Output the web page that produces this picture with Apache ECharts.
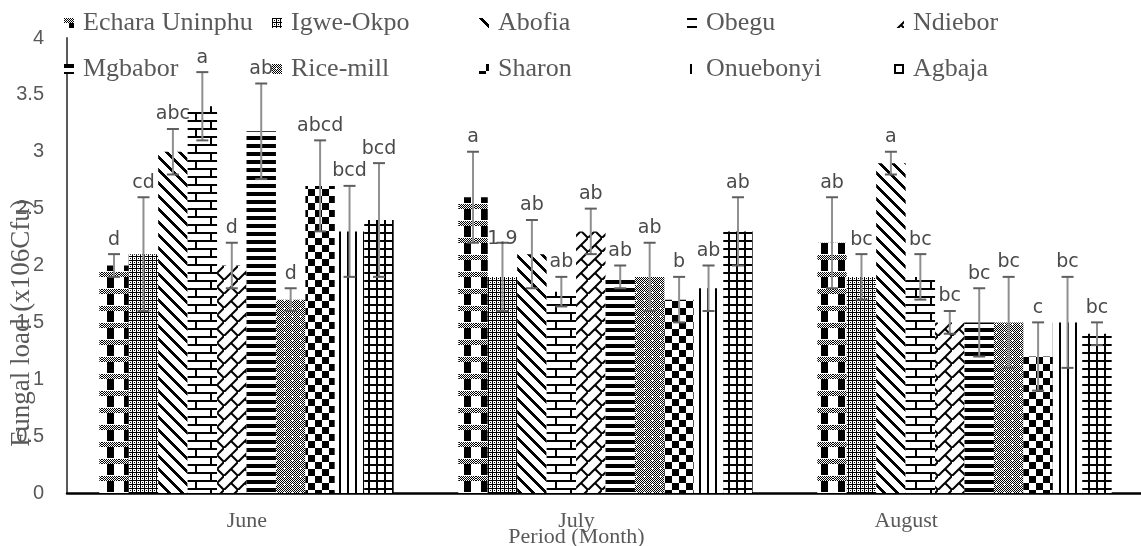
<!DOCTYPE html>
<html><head><meta charset="utf-8">
<script src="https://cdn.jsdelivr.net/npm/echarts@6/dist/echarts.min.js"></script>
<style>html,body{margin:0;padding:0;background:#fff}#c{width:1141px;height:546px}</style>
</head><body><div id="c"></div>
<script>
// ---------- DATA ----------
const categories = ['June', 'July', 'August'];
const seriesNames = ['Echara Uninphu', 'Igwe-Okpo', 'Abofia', 'Obegu', 'Ndiebor',
                     'Mgbabor', 'Rice-mill', 'Sharon', 'Onuebonyi', 'Agbaja'];
const yTicks = [0, 0.5, 1, 1.5, 2, 2.5, 3, 3.5, 4];

// mean fungal load per site [June, July, August]
const echara    = [2.0, 2.6, 2.2];
const igweOkpo  = [2.1, 1.9, 1.9];
const abofia    = [3.0, 2.1, 2.9];
const obegu     = [3.4, 1.77, 1.9];
const ndiebor   = [2.0, 2.3, 1.5];
const mgbabor   = [3.18, 1.9, 1.5];
const riceMill  = [1.7, 1.9, 1.5];
const sharon    = [2.7, 1.7, 1.2];
const onuebonyi = [2.3, 1.8, 1.5];
const agbaja    = [2.4, 2.3, 1.4];

// error bar half-lengths [June, July, August]
const echaraErr    = [0.1, 0.4, 0.4];
const igweOkpoErr  = [0.5, 0.3, 0.2];
const abofiaErr    = [0.2, 0.3, 0.1];
const obeguErr     = [0.3, 0.13, 0.2];
const ndieborErr   = [0.2, 0.2, 0.1];
const mgbaborErr   = [0.42, 0.1, 0.3];
const riceMillErr  = [0.1, 0.3, 0.4];
const sharonErr    = [0.4, 0.2, 0.3];
const onuebonyiErr = [0.4, 0.2, 0.4];
const agbajaErr    = [0.5, 0.3, 0.1];

// significance letters [June, July, August]
const echaraLbl    = ['d', 'a', 'ab'];
const igweOkpoLbl  = ['cd', '1.9', 'bc'];
const abofiaLbl    = ['abc', 'ab', 'a'];
const obeguLbl     = ['a', 'ab', 'bc'];
const ndieborLbl   = ['d', 'ab', 'bc'];
const mgbaborLbl   = ['ab', 'ab', 'bc'];
const riceMillLbl  = ['d', 'ab', 'bc'];
const sharonLbl    = ['abcd', 'b', 'c'];
const onuebonyiLbl = ['bcd', 'ab', 'bc'];
const agbajaLbl    = ['bcd', 'ab', 'bc'];

const values = [echara, igweOkpo, abofia, obegu, ndiebor, mgbabor, riceMill, sharon, onuebonyi, agbaja];
const errors = [echaraErr, igweOkpoErr, abofiaErr, obeguErr, ndieborErr, mgbaborErr, riceMillErr, sharonErr, onuebonyiErr, agbajaErr];
const letters = [echaraLbl, igweOkpoLbl, abofiaLbl, obeguLbl, ndieborLbl, mgbaborLbl, riceMillLbl, sharonLbl, onuebonyiLbl, agbajaLbl];

// ---------- PATTERNS ----------
function pix(w, h, fn) {
  const c = document.createElement('canvas'); c.width = w; c.height = h;
  const ctx = c.getContext('2d'); const img = ctx.createImageData(w, h);
  for (let j = 0; j < h; j++) for (let i = 0; i < w; i++) {
    const v = fn(i, j) ? 0 : 255, k = (j * w + i) * 4;
    img.data[k] = v; img.data[k + 1] = v; img.data[k + 2] = v; img.data[k + 3] = 255;
  }
  ctx.putImageData(img, 0, 0); return c;
}
function drawn(w, h, fn) {
  const c = document.createElement('canvas'); c.width = w; c.height = h;
  const ctx = c.getContext('2d'); ctx.fillStyle = '#fff'; ctx.fillRect(0, 0, w, h);
  ctx.strokeStyle = '#000'; fn(ctx); return c;
}
const tiles = [
  pix(17, 17, (i, j) => j < 5 ? (i + j) % 2 === 0 : (i >= 5 && i < 12 && j >= 5 && j < 16)),
  pix(4, 4, (i, j) => i === 0 || j === 0 || (i === 2 && j === 2)),
  pix(13, 13, (i, j) => ((i - j + 130) % 13) < 4),
  pix(30, 16, (i, j) => (j % 8) < 2 || (j >= 2 && j < 8 && (i === 15 || i === 16)) || (j >= 10 && (i === 0 || i === 1))),
  drawn(14, 14, ctx => {
    ctx.lineWidth = 2;
    ctx.beginPath(); ctx.moveTo(-2, 16); ctx.lineTo(16, -2); ctx.stroke();
    ctx.beginPath(); ctx.moveTo(7, 7); ctx.lineTo(15, 15); ctx.stroke();
  }),
  pix(1, 8, (i, j) => j < 4),
  pix(8, 8, (i, j) => (i + j) % 2 === 0 && !(i === 4 && j === 4)),
  pix(14, 14, (i, j) => (i < 7) !== (j < 7)),
  pix(8, 1, (i) => i >= 3 && i < 5),
  pix(8, 8, (i, j) => i < 2 || j < 2)
];

// ---------- CHART ----------
const chart = echarts.init(document.getElementById('c'), null, { renderer: 'canvas' });
const GAP = 0.18, N = seriesNames.length;
const errData = [], errMeta = [];
values.forEach((vals, s) => vals.forEach((v, c) => {
  errData.push([c, v, s, errors[s][c]]);
  errMeta.push(letters[s][c]);
}));

const labelFont = '"DejaVu Sans", sans-serif';
const serif = '"Liberation Serif", "Times New Roman", serif';

const option = {
  animation: false,
  backgroundColor: '#fff',
  grid: [
    { left: 67, right: -3, top: 38, bottom: 53, containLabel: false, outerBoundsMode: 'none' },
    { left: 82, right: 70, top: 38, bottom: 53, containLabel: false, outerBoundsMode: 'none' }
  ],
  legend: seriesNames.map((n, k) => ({
    data: [n], selectedMode: false, icon: 'rect', itemWidth: 10, itemHeight: 10, padding: 0,
    left: Math.round(83 + (k % 5) * 207.5 - 19), top: k < 5 ? 10 : 56,
    textStyle: { fontFamily: serif, fontSize: 26, color: '#595959', padding: [0, 0, 0, 4] }
  })),
  xAxis: [{
    type: 'category', data: categories, gridIndex: 0,
    axisLine: { lineStyle: { color: '#000', width: 2.5 } },
    axisTick: { show: false }, axisLabel: { show: false }
  }, {
    type: 'category', data: categories, gridIndex: 1,
    axisLine: { show: false }, axisTick: { show: false },
    axisLabel: { margin: 17, fontFamily: serif, fontSize: 22, color: '#595959', hideOverlap: false },
    name: 'Period (Month)', nameLocation: 'middle', nameGap: 33, nameMoveOverlap: false,
    nameTextStyle: { fontFamily: serif, fontSize: 22, color: '#595959' }
  }],
  yAxis: [{
    type: 'value', gridIndex: 0, min: yTicks[0], max: yTicks[yTicks.length - 1], interval: yTicks[1] - yTicks[0],
    axisLine: { show: true, lineStyle: { color: '#595959', width: 2 } },
    axisTick: { show: false }, splitLine: { show: false },
    axisLabel: { margin: 23, fontFamily: '"Liberation Sans", sans-serif', fontSize: 20, color: '#595959' }
  }, {
    type: 'value', gridIndex: 1, min: 0, max: 1, show: false
  }],
  graphic: [{
    type: 'text', x: 22, y: 323, rotation: Math.PI / 2, z: 100,
    style: { text: 'Fungal load (x106Cfu)', font: '27px ' + serif, fill: '#595959', align: 'center', verticalAlign: 'middle' }
  }],
  series: seriesNames.map((n, k) => ({
    type: 'bar', name: n, data: values[k], barGap: '0%', barCategoryGap: (GAP * 100) + '%',
    xAxisIndex: 0, yAxisIndex: 0,
    itemStyle: { color: { image: tiles[k], repeat: 'repeat' } },
    emphasis: { disabled: true }
  })).concat([{
    type: 'custom', name: 'err', z: 10, data: errData, encode: { x: 0, y: 1 },
    xAxisIndex: 0, yAxisIndex: 0,
    renderItem: (params, api) => {
      const c = api.value(0), v = api.value(1), s = api.value(2), e = api.value(3);
      const lbl = errMeta[params.dataIndex];
      const band = api.size([1, 0])[0];
      const bw = band * (1 - GAP) / N;
      const cx = api.coord([c, 0])[0] + (s - (N - 1) / 2) * bw;
      const yT = api.coord([c, v + e])[1], yB = api.coord([c, v - e])[1];
      const cap = 6;
      const numeric = !isNaN(parseFloat(lbl));
      return { type: 'group', children: [
        { type: 'line', shape: { x1: cx, y1: yT, x2: cx, y2: yB }, style: { stroke: '#8f8f8f', lineWidth: 2 } },
        { type: 'line', shape: { x1: cx - cap, y1: yT, x2: cx + cap, y2: yT }, style: { stroke: '#5f5f5f', lineWidth: 2 } },
        { type: 'line', shape: { x1: cx - cap, y1: yB, x2: cx + cap, y2: yB }, style: { stroke: '#5f5f5f', lineWidth: 2 } },
        { type: 'text', x: cx, y: numeric ? yT + 6 : yT - 5,
          style: { text: lbl, font: '19px ' + labelFont, fill: '#4a4a4a', align: 'center', verticalAlign: 'bottom' } }
      ] };
    }
  }])
};
chart.setOption(option);
</script>
</body></html>
